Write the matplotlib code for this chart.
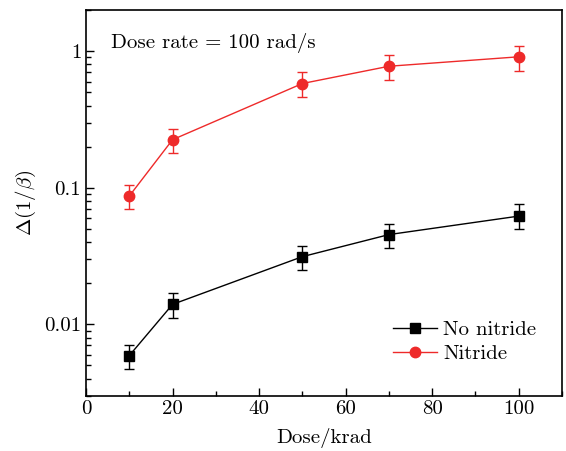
import numpy as np
from matplotlib import pyplot as plt
from matplotlib.ticker import FixedLocator, FixedFormatter, LogLocator, MultipleLocator

plt.rcParams['font.family'] = 'serif'
plt.rcParams['font.serif'] = ['cmr10', 'DejaVu Serif']
plt.rcParams['mathtext.fontset'] = 'cm'
plt.rcParams['axes.unicode_minus'] = False

dose = [10, 20, 50, 70, 100]

no_nitride = [0.0059, 0.0140, 0.0313, 0.0454, 0.0620]
no_nitride_lo = [0.0047, 0.0112, 0.0250, 0.0363, 0.0500]
no_nitride_hi = [0.0071, 0.0169, 0.0377, 0.0545, 0.0760]

nitride = [0.087, 0.225, 0.58, 0.776, 0.91]
nitride_lo = [0.070, 0.180, 0.465, 0.62, 0.72]
nitride_hi = [0.105, 0.270, 0.70, 0.935, 1.09]

red = '#EE2A2A'
fs = 15

fig = plt.figure(figsize=(5.66, 4.51), dpi=100)
ax = fig.add_axes([0.152, 0.1226, 0.841, 0.855])

def err(y, lo, hi):
    y = np.array(y)
    return [y - np.array(lo), np.array(hi) - y]

eb1 = ax.errorbar(dose, no_nitride, yerr=err(no_nitride, no_nitride_lo, no_nitride_hi),
                  color='black', marker='s', markersize=6.5, linewidth=1.0,
                  elinewidth=1.0, capsize=3.5, capthick=1.0, label='No nitride')
eb2 = ax.errorbar(dose, nitride, yerr=err(nitride, nitride_lo, nitride_hi),
                  color=red, marker='o', markersize=7.5, linewidth=1.0,
                  elinewidth=1.0, capsize=3.5, capthick=1.0, label='Nitride')

ax.set_yscale('log')
ax.set_xlim(0, 110)
ax.set_ylim(0.003, 2.0)

ax.xaxis.set_major_locator(MultipleLocator(20))
ax.xaxis.set_minor_locator(MultipleLocator(10))
ax.yaxis.set_major_locator(FixedLocator([0.01, 0.1, 1]))
ax.yaxis.set_major_formatter(FixedFormatter(['0.01', '0.1', '1']))
ax.yaxis.set_minor_locator(LogLocator(base=10, subs=np.arange(2, 10)))
ax.yaxis.set_minor_formatter(plt.NullFormatter())

ax.tick_params(which='both', direction='in', top=False, right=False, labelsize=fs)
ax.tick_params(which='major', length=6, width=1.0)
ax.tick_params(which='minor', length=3.5, width=1.0)
for s in ax.spines.values():
    s.set_linewidth(1.2)

ax.set_xlabel('Dose/krad', fontsize=fs, labelpad=7)
ax.set_ylabel(r'$\Delta(1/\beta)$', fontsize=fs)

ax.text(0.052, 0.915, 'Dose rate = 100 rad/s', transform=ax.transAxes,
        fontsize=fs, va='center', ha='left')

ax.legend([eb1[0], eb2[0]], ['No nitride', 'Nitride'],
          loc='lower right', bbox_to_anchor=(0.985, 0.035), frameon=False,
          fontsize=fs, handlelength=2.1, handletextpad=0.3, labelspacing=0.28)

plt.savefig('out.png', dpi=100)
